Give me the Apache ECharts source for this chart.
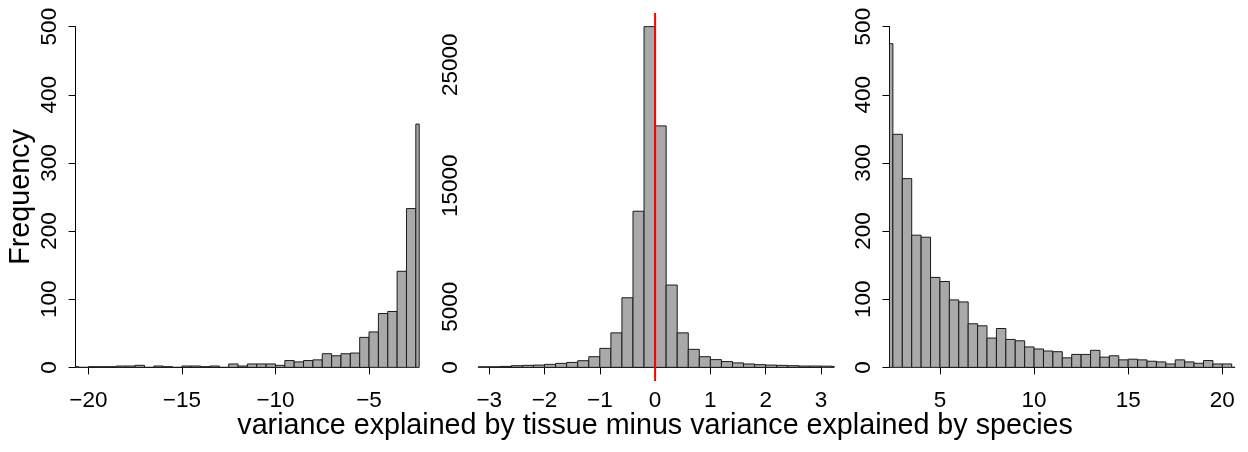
<!DOCTYPE html>
<html>
<head>
<meta charset="utf-8">
<script src="https://cdn.jsdelivr.net/npm/echarts@6/dist/echarts.min.js"></script>
<style>
  html, body { margin: 0; padding: 0; background: #fff; }
  #chart { width: 1248px; height: 452px; }
</style>
</head>
<body>
<div id="chart"></div>
<script>
// histogram counts (bins of fixed width from a first edge)
const leftStart = -21;
const leftWidth = 0.5;
const leftCounts = [1, 0, 1, 1, 1, 2, 2, 3, 0, 2, 1, 0, 2, 2, 1, 2, 0, 5, 2, 5,
  5, 5, 3, 10, 8, 10, 11, 20, 17, 20, 21, 44, 52, 79, 82, 141, 233, 357];

const midStart = -3.2;
const midWidth = 0.2;
const midCounts = [50, 50, 80, 140, 165, 190, 250, 330, 410, 550, 880, 1570, 2850,
  5750, 12900, 28150, 19950, 6800, 2850, 1490, 880, 640, 480, 370, 280, 225, 190,
  165, 140, 110, 110, 100, 80];

const rightStart = 2;
const rightWidth = 0.5;
const rightCounts = [475, 342, 277, 194, 191, 132, 126, 99, 96, 64, 61, 43, 57, 41,
  39, 30, 27, 24, 23, 14, 19, 19, 25, 15, 17, 11, 12, 11, 9, 8, 5, 11, 8, 6, 10, 5, 5, 0];

// axis ticks
const leftXTicks = [-20, -15, -10, -5];
const midXTicks = [-3, -2, -1, 0, 1, 2, 3];
const rightXTicks = [5, 10, 15, 20];
const countYTicks = [0, 100, 200, 300, 400, 500];
const midYTicks = [0, 5000, 10000, 15000, 20000, 25000];
const midYShown = [0, 5000, 15000, 25000];
const refLineX = 0;

const xTitle = 'variance explained by tissue minus variance explained by species';
const yTitle = 'Frequency';

const FONT = 'Liberation Sans, Arial, Helvetica, sans-serif';
const TICK_SIZE = 22.5;
const LAB_SIZE = 28.7;
const TOP = 13;
const HEIGHT = 368;

// plot regions (R pads xlim/ylim by 4%)
const panels = [
  { left: 75.6, width: 343.6, xMin: -20.68, xMax: -2.32, yMin: -20, yMax: 520,
    start: leftStart, bw: leftWidth, counts: leftCounts, xTicks: leftXTicks, yTicks: countYTicks },
  { left: 476, width: 358.2, xMin: -3.24, xMax: 3.24, yMin: -1126, yMax: 29276,
    start: midStart, bw: midWidth, counts: midCounts, xTicks: midXTicks, yTicks: midYTicks, yShown: midYShown },
  { left: 889.5, width: 345.6, xMin: 2.32, xMax: 20.68, yMin: -20, yMax: 520,
    start: rightStart, bw: rightWidth, counts: rightCounts, xTicks: rightXTicks, yTicks: countYTicks },
];

const minus = (v) => String(v).replace('-', '\u2212');

function renderBar(params, api) {
  const p0 = api.coord([api.value(0), api.value(2)]);
  const p1 = api.coord([api.value(1), 0]);
  const cs = params.coordSys;
  const shape = echarts.graphic.clipRectByRect(
    { x: p0[0], y: p0[1], width: p1[0] - p0[0], height: p1[1] - p0[1] },
    { x: cs.x, y: cs.y, width: cs.width, height: cs.height },
  );
  return shape && {
    type: 'rect',
    shape,
    style: { fill: '#a9a9a9', stroke: '#1a1a1a', lineWidth: 1 },
  };
}

const grid = [];
const xAxis = [];
const yAxis = [];
const series = [];

panels.forEach((p, i) => {
  const px = (v) => p.left + (v - p.xMin) / (p.xMax - p.xMin) * p.width;
  const py = (v) => TOP + (p.yMax - v) / (p.yMax - p.yMin) * HEIGHT;

  // data grid
  grid.push({ left: p.left, top: TOP, width: p.width, height: HEIGHT });
  xAxis.push({ gridIndex: 2 * i, type: 'value', min: p.xMin, max: p.xMax, show: false });
  yAxis.push({ gridIndex: 2 * i, type: 'value', min: p.yMin, max: p.yMax, show: false });

  const bars = p.counts.map((c, k) => [p.start + k * p.bw, p.start + (k + 1) * p.bw, c]);
  series.push({
    type: 'custom',
    xAxisIndex: 2 * i,
    yAxisIndex: 2 * i,
    renderItem: renderBar,
    encode: { x: [0, 1], y: 2 },
    data: bars,
    silent: true,
  });

  // axis grid, spanning first to last tick like R's axis()
  const x0 = p.xTicks[0];
  const x1 = p.xTicks[p.xTicks.length - 1];
  const yTop = p.yTicks[p.yTicks.length - 1];
  grid.push({
    left: px(x0), width: px(x1) - px(x0),
    top: py(yTop), height: py(0) - py(yTop),
  });
  const tickLine = { show: true, length: 7, lineStyle: { color: '#000', width: 1 } };
  xAxis.push({
    gridIndex: 2 * i + 1, type: 'value', min: x0, max: x1,
    interval: p.xTicks[1] - p.xTicks[0],
    offset: TOP + HEIGHT - py(0),
    splitLine: { show: false },
    axisLine: { show: true, lineStyle: { color: '#000', width: 1 } },
    axisTick: tickLine,
    axisLabel: {
      show: true, margin: 8, color: '#000', fontSize: TICK_SIZE, fontFamily: FONT,
      formatter: minus, showMinLabel: true, showMaxLabel: true, hideOverlap: false,
    },
  });
  yAxis.push({
    gridIndex: 2 * i + 1, type: 'value', min: 0, max: yTop,
    interval: p.yTicks[1] - p.yTicks[0],
    offset: px(x0) - p.left,
    splitLine: { show: false },
    axisLine: { show: true, lineStyle: { color: '#000', width: 1 } },
    axisTick: tickLine,
    axisLabel: {
      show: true, rotate: 90, margin: 14, color: '#000', fontSize: TICK_SIZE, fontFamily: FONT,
      showMinLabel: true, showMaxLabel: true, hideOverlap: false,
      formatter: (v) => (!p.yShown || p.yShown.includes(v) ? String(v) : ''),
    },
    name: i === 0 ? yTitle : '',
    nameLocation: 'middle',
    nameRotate: 90,
    nameGap: 40,
    nameTextStyle: { color: '#000', fontSize: LAB_SIZE, fontFamily: FONT },
  });
  series.push({
    type: 'line', xAxisIndex: 2 * i + 1, yAxisIndex: 2 * i + 1, data: [], silent: true,
  });
});

// red reference line at zero in the middle panel
series.push({
  type: 'line',
  xAxisIndex: 2,
  yAxisIndex: 2,
  data: [[refLineX, panels[1].yMin], [refLineX, panels[1].yMax]],
  symbol: 'none',
  silent: true,
  lineStyle: { color: '#ff0000', width: 2 },
  z: 5,
});

const chart = echarts.init(document.getElementById('chart'), null, { renderer: 'canvas' });
chart.setOption({
  animation: false,
  backgroundColor: '#fff',
  title: {
    text: xTitle,
    left: panels[1].left + panels[1].width / 2,
    textAlign: 'center',
    top: 412,
    padding: 0,
    textStyle: { color: '#000', fontSize: LAB_SIZE, fontWeight: 'normal', fontFamily: FONT },
  },
  grid,
  xAxis,
  yAxis,
  series,
});
</script>
</body>
</html>
